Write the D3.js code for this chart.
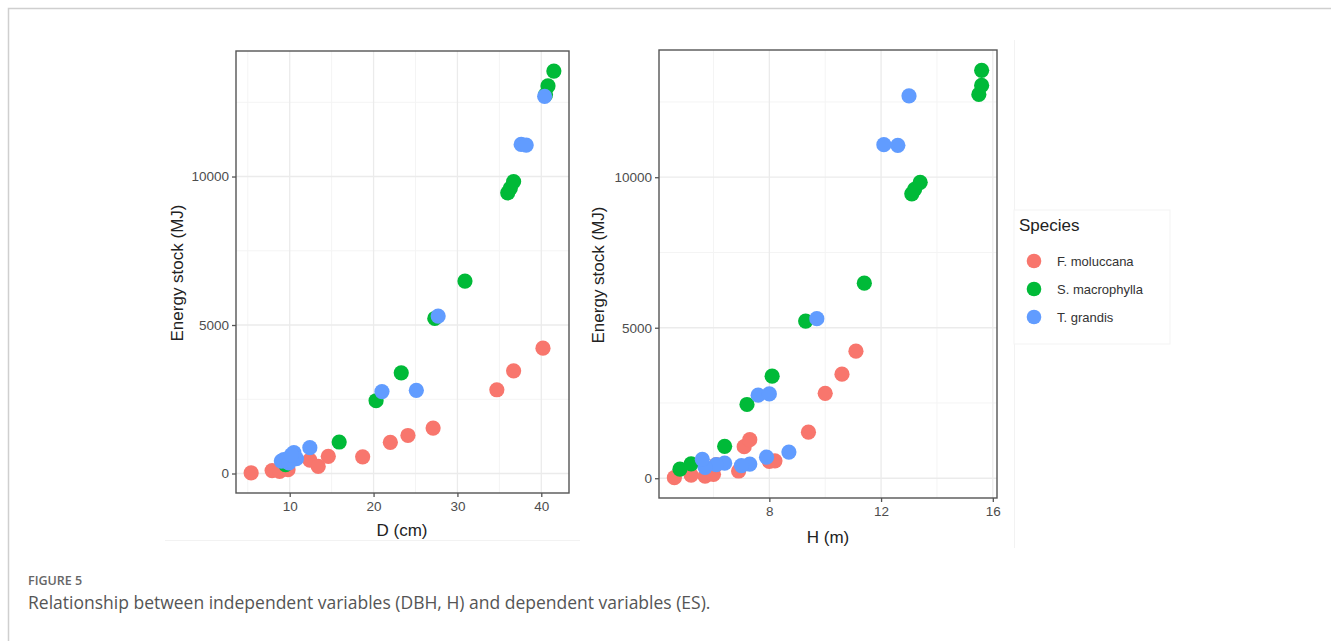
<!DOCTYPE html>
<html>
<head>
<meta charset="utf-8">
<script src="https://cdn.jsdelivr.net/npm/d3@7"></script>
<style>
  body { margin: 0; background: #fff; }
  svg { display: block; }
</style>
</head>
<body>
<svg id="chart"></svg>
<script>
// ---- data: [D (cm), H (m), ES (MJ)] per tree ----
const speciesNames = ["F. moluccana", "S. macrophylla", "T. grandis"];
const speciesColors = ["#F8766D", "#00BA38", "#619CFF"];

const moluccana = [
  [5.4, 4.6, 20], [7.9, 5.2, 100], [8.8, 5.7, 70], [9.8, 6.0, 130],
  [12.4, 6.1, 450], [13.4, 6.9, 240], [14.6, 8.2, 580], [18.7, 8.0, 560],
  [22.0, 7.1, 1050], [24.1, 7.3, 1280], [27.1, 9.4, 1530],
  [34.7, 10.0, 2820], [36.7, 10.6, 3456], [40.2, 11.1, 4220]
];
const macrophylla = [
  [9.5, 4.8, 300], [10.2, 5.2, 480], [15.9, 6.4, 1060], [20.3, 7.2, 2450],
  [23.3, 8.1, 3390], [27.3, 9.3, 5220], [30.9, 11.4, 6480],
  [36.0, 13.1, 9450], [36.3, 13.2, 9600], [36.7, 13.4, 9830],
  [40.5, 15.5, 12750], [40.8, 15.6, 13050], [41.5, 15.6, 13550]
];
const grandis = [
  [40.4, 13.0, 12700], [37.6, 12.1, 11080], [38.2, 12.6, 11060],
  [27.7, 9.7, 5300], [21.0, 7.6, 2760], [25.1, 8.0, 2800],
  [12.4, 8.7, 870], [10.5, 7.9, 700], [9.3, 7.3, 470], [9.0, 7.0, 420],
  [10.8, 6.4, 500], [9.6, 6.1, 450], [9.9, 5.7, 360], [10.2, 5.6, 630]
];

const dTicks = [10, 20, 30, 40];
const hTicks = [8, 12, 16];
const esTicks = [0, 5000, 10000];

const captionLabel = "FIGURE 5";
const captionText = "Relationship between independent variables (DBH, H) and dependent variables (ES).";

// ---- setup ----
const width = 1331, height = 641;
const svg = d3.select("#chart").attr("width", width).attr("height", height);

const rows = [];
[moluccana, macrophylla, grandis].forEach((list, i) => {
  list.forEach(r => rows.push({ D: r[0], H: r[1], ES: r[2], sp: i }));
});

// ggplot style 5% expansion
function expand(ext) {
  const pad = (ext[1] - ext[0]) * 0.05;
  return [ext[0] - pad, ext[1] + pad];
}

// outer page frame
svg.append("path")
  .attr("d", `M8.5,${height} L8.5,8.5 L${width},8.5`)
  .attr("fill", "none").attr("stroke", "#cfcfcf").attr("stroke-width", 1.5);

// faint edges of the pasted images
svg.append("line").attr("x1", 165).attr("x2", 580).attr("y1", 540.5).attr("y2", 540.5)
  .attr("stroke", "#f2f2f2");
svg.append("line").attr("x1", 1014.5).attr("x2", 1014.5).attr("y1", 40).attr("y2", 548)
  .attr("stroke", "#f2f2f2");

function panel(opts) {
  const { key, ticks, box, xTitle, titleX, titleY, yTitleX } = opts;
  const x = d3.scaleLinear().domain(expand(d3.extent(rows, d => d[key])))
    .range([box.x0, box.x1]);
  const y = d3.scaleLinear().domain(expand(d3.extent(rows, d => d.ES)))
    .range([box.y1, box.y0]);

  const g = svg.append("g");

  // minor grid
  const xMinor = ticks.slice(0, -1).map((t, i) => (t + ticks[i + 1]) / 2);
  const step = ticks[1] - ticks[0];
  xMinor.unshift(ticks[0] - step / 2);
  const yMinor = [2500, 7500, 12500];
  g.selectAll(".xminor").data(xMinor.filter(v => x(v) > box.x0 && x(v) < box.x1)).join("line")
    .attr("x1", d => x(d)).attr("x2", d => x(d)).attr("y1", box.y0).attr("y2", box.y1)
    .attr("stroke", "#f4f4f4").attr("stroke-width", 1);
  g.selectAll(".yminor").data(yMinor).join("line")
    .attr("y1", d => y(d)).attr("y2", d => y(d)).attr("x1", box.x0).attr("x2", box.x1)
    .attr("stroke", "#f4f4f4").attr("stroke-width", 1);
  // major grid
  g.selectAll(".xmajor").data(ticks.filter(v => x(v) < box.x1)).join("line")
    .attr("x1", d => x(d)).attr("x2", d => x(d)).attr("y1", box.y0).attr("y2", box.y1)
    .attr("stroke", "#ebebeb").attr("stroke-width", 1.3);
  g.selectAll(".ymajor").data(esTicks).join("line")
    .attr("y1", d => y(d)).attr("y2", d => y(d)).attr("x1", box.x0).attr("x2", box.x1)
    .attr("stroke", "#ebebeb").attr("stroke-width", 1.3);

  // points
  g.append("g").selectAll("circle").data(rows).join("circle")
    .attr("cx", d => x(d[key])).attr("cy", d => y(d.ES)).attr("r", 7.6)
    .attr("fill", d => speciesColors[d.sp]);

  // border
  g.append("rect").attr("x", box.x0).attr("y", box.y0)
    .attr("width", box.x1 - box.x0).attr("height", box.y1 - box.y0)
    .attr("fill", "none").attr("stroke", "#555").attr("stroke-width", 1.4);

  // axes
  const xAxis = d3.axisBottom(x).tickValues(ticks).tickSize(4).tickPadding(4);
  const yAxis = d3.axisLeft(y).tickValues(esTicks).tickSize(4).tickPadding(3)
    .tickFormat(d3.format("d"));
  [g.append("g").attr("transform", `translate(0,${box.y1})`).call(xAxis),
   g.append("g").attr("transform", `translate(${box.x0},0)`).call(yAxis)].forEach(a => {
    a.select(".domain").remove();
    a.selectAll(".tick line").attr("stroke", "#555").attr("stroke-width", 1.3);
    a.selectAll(".tick text").attr("fill", "#4d4d4d")
      .style("font-family", "Liberation Sans, Arial, sans-serif").style("font-size", "13.5px");
  });

  g.append("text").attr("x", titleX).attr("y", titleY).attr("text-anchor", "middle")
    .attr("fill", "#222").style("font-family", "Liberation Sans, Arial, sans-serif")
    .style("font-size", "17px").text(xTitle);
  g.append("text")
    .attr("transform", `translate(${yTitleX},${(box.y0 + box.y1) / 2 + 1}) rotate(-90)`)
    .attr("text-anchor", "middle").attr("fill", "#222")
    .style("font-family", "Liberation Sans, Arial, sans-serif")
    .style("font-size", "17px").text("Energy stock (MJ)");
}

panel({ key: "D", ticks: dTicks, box: { x0: 236, x1: 569, y0: 51, y1: 493 },
  xTitle: "D (cm)", titleX: 402, titleY: 536, yTitleX: 183 });
panel({ key: "H", ticks: hTicks, box: { x0: 659, x1: 997, y0: 50, y1: 498 },
  xTitle: "H (m)", titleX: 828, titleY: 543, yTitleX: 604 });

// legend
const legend = svg.append("g");
legend.append("rect").attr("x", 1014).attr("y", 210).attr("width", 156).attr("height", 134)
  .attr("fill", "#fff").attr("stroke", "#f3f3f3");
legend.append("text").attr("x", 1019).attr("y", 231).attr("fill", "#222")
  .style("font-family", "Liberation Sans, Arial, sans-serif").style("font-size", "17px")
  .text("Species");
const items = legend.selectAll(".item").data(speciesNames).join("g")
  .attr("transform", (d, i) => `translate(0,${261 + i * 28})`);
items.append("circle").attr("cx", 1034).attr("cy", 0).attr("r", 7.3)
  .attr("fill", (d, i) => speciesColors[i]);
items.append("text").attr("x", 1057).attr("y", 4.5).attr("fill", "#333")
  .style("font-family", "Liberation Sans, Arial, sans-serif").style("font-size", "13px")
  .text(d => d);

// caption
svg.append("text").attr("x", 28).attr("y", 585).attr("fill", "#666")
  .style("font-family", "Open Sans, sans-serif").style("font-size", "12.5px")
  .style("font-weight", 600).text(captionLabel);
svg.append("text").attr("x", 28).attr("y", 609).attr("fill", "#555")
  .style("font-family", "Open Sans, sans-serif").style("font-size", "17.5px")
  .text(captionText);
</script>
</body>
</html>
